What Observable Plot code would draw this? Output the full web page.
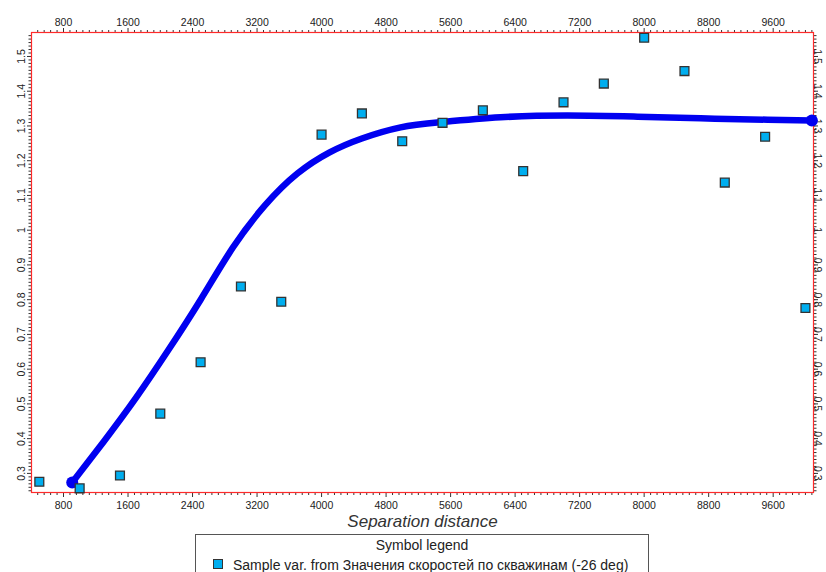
<!DOCTYPE html>
<html>
<head>
<meta charset="utf-8">
<script src="https://cdn.jsdelivr.net/npm/d3@7"></script>
<script src="https://cdn.jsdelivr.net/npm/@observablehq/plot@0.6"></script>
<style>
  html, body { margin: 0; padding: 0; background: #fff; overflow: hidden; }
  #wrap { position: relative; width: 826px; height: 572px; font-family: "Liberation Sans", Arial, sans-serif; }
  #legend { position: absolute; left: 195px; top: 534px; width: 454px; height: 60px; border: 1px solid #555; box-sizing: border-box; background: #fff; color: #222; font-size: 14px; }
  #legend .title { text-align: center; margin-top: 2px; }
  #legend .entry { position: absolute; left: 17px; top: 22px; white-space: nowrap; }
  #legend .sw { display: inline-block; width: 8px; height: 8px; background: #00aeef; border: 1.3px solid #333; vertical-align: 1px; margin-right: 10px; }
</style>
</head>
<body>
<div id="wrap">
  <div id="chart"></div>
  <div id="legend">
    <div class="title">Symbol legend</div>
    <div class="entry"><span class="sw"></span><span id="legText"></span></div>
  </div>
</div>
<script>
// Experimental variogram (sample) values
const sampleX = [500, 1000, 1500, 2000, 2500, 3000, 3500, 4000, 4500, 5000, 5500, 6000, 6500, 7000, 7500, 8000, 8500, 9000, 9500, 10000];
const sampleY = [0.276, 0.257, 0.294, 0.472, 0.620, 0.838, 0.794, 1.275, 1.336, 1.256, 1.309, 1.345, 1.170, 1.368, 1.422, 1.554, 1.458, 1.137, 1.269, 0.776];

// Fitted model curve
const modelX = [908, 1300, 1700, 2100, 2500, 2900, 3300, 3700, 4100, 4500, 4980, 5480, 6220, 7050, 7870, 8700, 9530, 10080];
const modelY = [0.274, 0.392, 0.518, 0.655, 0.800, 0.950, 1.072, 1.163, 1.224, 1.264, 1.296, 1.311, 1.325, 1.330, 1.327, 1.322, 1.318, 1.316];

// Tick labels
const xTicks = [800, 1600, 2400, 3200, 4000, 4800, 5600, 6400, 7200, 8000, 8800, 9600];
const yTicks = [0.3, 0.4, 0.5, 0.6, 0.7, 0.8, 0.9, 1, 1.1, 1.2, 1.3, 1.4, 1.5];

const xLabel = "Separation distance";
const legendTitle = "Symbol legend";
const legendLabel = "Sample var. from Значения скоростей по скважинам (-26 deg)";

const samples = sampleX.map((x, i) => ({x, y: sampleY[i]}));
const model = modelX.map((x, i) => ({x, y: modelY[i]}));

const xMinor = d3.range(480, 10100, 80).filter(v => v % 800 !== 0);
const yMinor = d3.range(25, 157).map(v => v / 100).filter(v => Math.abs(v * 10 - Math.round(v * 10)) > 1e-6);

const fmtY = d => String(d);
const tickCol = "#333";

const chart = Plot.plot({
  width: 826,
  height: 532,
  marginLeft: 31,
  marginRight: 13,
  marginTop: 32,
  marginBottom: 40,
  style: {fontFamily: "'Liberation Sans', Arial, sans-serif", fontSize: "10.5px", color: "#222", background: "#fff", overflow: "visible"},
  x: {domain: [403, 10100]},
  y: {domain: [0.245, 1.569]},
  marks: [
    // minor ticks
    Plot.axisX({anchor: "bottom", ticks: xMinor, tickSize: 3, tickFormat: () => "", stroke: tickCol, label: null}),
    Plot.axisX({anchor: "top", ticks: xMinor, tickSize: 3, tickFormat: () => "", stroke: tickCol, label: null}),
    Plot.axisY({anchor: "left", ticks: yMinor, tickSize: 2.5, tickFormat: () => "", stroke: tickCol, label: null}),
    Plot.axisY({anchor: "right", ticks: yMinor, tickSize: 2.5, tickFormat: () => "", stroke: tickCol, label: null}),
    // major ticks + labels
    Plot.axisX({anchor: "bottom", ticks: xTicks, tickSize: 5, tickPadding: 4, stroke: tickCol, label: null, tickFormat: d => String(d)}),
    Plot.axisX({anchor: "top", ticks: xTicks, tickSize: 5, tickPadding: 2, stroke: tickCol, label: null, tickFormat: d => String(d)}),
    Plot.axisY({anchor: "left", ticks: yTicks, tickSize: 4, tickPadding: 3, tickRotate: -90, stroke: tickCol, label: null, tickFormat: fmtY}),
    Plot.axisY({anchor: "right", ticks: yTicks, tickSize: 4, tickPadding: 4, tickRotate: 90, stroke: tickCol, label: null, tickFormat: fmtY}),
    Plot.frame({stroke: "#ff2a2a", strokeWidth: 1.2}),
    Plot.text([xLabel], {frameAnchor: "bottom", dy: 34, fontSize: 17, fontStyle: "italic", fill: "#333"}),
    Plot.line(model, {x: "x", y: "y", curve: "natural", stroke: "#0000f0", strokeWidth: 6.5, strokeLinecap: "round"}),
    Plot.dot(model, {x: "x", y: "y", filter: (d, i) => i === 0 || i === model.length - 1, r: 6, fill: "#0000f0", stroke: "none"}),
    Plot.dot(samples, {x: "x", y: "y", symbol: "square", r: 5, fill: "#00aeef", stroke: "#333", strokeWidth: 1.3})
  ]
});
document.getElementById("chart").appendChild(chart);
document.querySelector("#legend .title").textContent = legendTitle;
document.getElementById("legText").textContent = legendLabel;
</script>
</body>
</html>
